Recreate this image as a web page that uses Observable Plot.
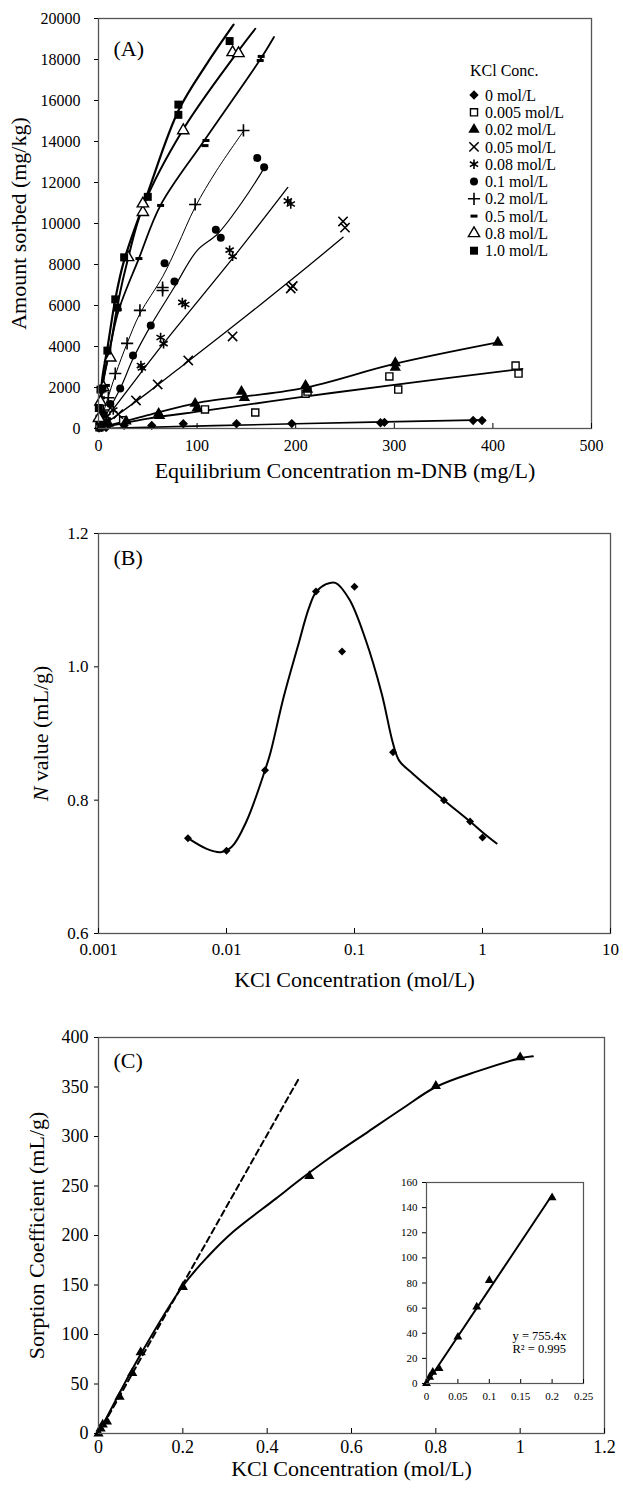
<!DOCTYPE html>
<html><head><meta charset="utf-8">
<script src="https://cdn.jsdelivr.net/npm/d3@7"></script>
<script src="https://cdn.jsdelivr.net/npm/@observablehq/plot@0.6"></script>
<style>
body{margin:0;background:#fff;}
#wrap{position:relative;width:623px;height:1490px;background:#fff;font-family:"Liberation Serif","Times New Roman",serif;}
#wrap > svg{display:block;}
.abs{position:absolute;}
</style></head><body><div id="wrap"></div>
<script>
// ---------------- Panel A data (Ce mg/L, q mg/kg) ----------------
const aSeries = ["0 mol/L","0.005 mol/L","0.02 mol/L","0.05 mol/L","0.08 mol/L","0.1 mol/L","0.2 mol/L","0.5 mol/L","0.8 mol/L","1.0 mol/L"];
const aXTicks = [0,100,200,300,400,500];
const aYTicks = [0,2000,4000,6000,8000,10000,12000,14000,16000,18000,20000];

const pts0   = [[0.5,20],[3,40],[8,60],[26,150],[54,150],[86,230],[140,230],[196,240],[286,280],[290,300],[380,390],[389,390]];
const pts005 = [[1,60],[5,150],[25,400],[108,930],[159,780],[210,1700],[212,1800],[295,2540],[304,1900],[423,3070],[426,2680]];
const pts02  = [[3,100],[10,250],[28,350],[61,730],[62,620],[98,1220],[100,1000],[145,1800],[148,1500],[210,2100],[212,1900],[301,3200],[301,2980],[405,4200]];
const pts05  = [[3,100],[8,300],[20,700],[38,1370],[60,2150],[91,3320],[136,4490],[195,6830],[197,6950],[248,10100],[250,9800]];
const pts08  = [[3,200],[8,600],[15,900],[43,3070],[44,2950],[63,4440],[66,4140],[85,6150],[88,6050],[133,8700],[136,8400],[192,11100],[195,10950]];
const pts1   = [[1,300],[5,700],[12,1200],[22,1950],[35,3560],[53,5020],[67,8060],[77,7170],[119,9700],[124,9300],[161,13200],[168,12750]];
const pts2   = [[1,400],[5,900],[10,1500],[17,2680],[29,4150],[42,5760],[65,6880],[65,6730],[98,10930],[147,14540]];
const pts5   = [[0.5,600],[3,1500],[8,2100],[20,5800],[41,8290],[63,10880],[108,13800],[109,14050],[164,17950],[165,18150]];
const pts8   = [[0.5,500],[2,1300],[5,2000],[12,3450],[30,8350],[45,10550],[45,10970],[86,14540],[136,18350],[142,18300]];
const pts10  = [[0.3,1000],[2,1900],[4,1950],[9,3800],[17,6300],[19,5900],[26,8350],[50,11300],[81,15300],[81,15800],[133,18900]];

// fitted curves
const fit0   = [[0,0],[200,230],[392,420]];
const fit005 = [[0,0],[50,480],[110,880],[205,1530],[300,2130],[430,2910]];
const fit02  = [[0,0],[50,650],[103,1280],[205,1940],[300,3150],[405,4200]];
const fit05  = [[0,0],[50,1750],[92,3320],[150,5500],[205,7620],[248,9330]];
const fit08  = [[0,0],[30,1900],[66,4150],[137,8360],[192,11760]];
const fit1   = [[0,0],[22,1950],[35,3400],[53,5020],[77,6900],[100,8680],[121,9500],[145,11000],[168,12700]];
const fit2   = [[0,0],[17,2600],[29,4150],[42,5600],[65,7400],[80,8900],[98,10800],[120,12600],[147,14500]];
const fit5   = [[0,0],[5,2300],[10,3500],[20,5700],[41,8300],[63,10900],[108,14100],[164,18000],[178,19100]];
const fit8   = [[0,0],[5,2400],[12,4000],[20,6200],[30,8300],[45,10800],[86,14600],[140,18300],[159,19500]];
const fit10  = [[0,0],[4,2500],[9,3900],[17,6300],[26,8200],[50,11500],[81,15500],[110,17800],[137,19700]];

// ---------------- Panel B data ----------------
const bXTicks = [0.001,0.01,0.1,1,10];
const bYTicks = [0.6,0.8,1.0,1.2];
const bKCl = [0.005,0.01,0.02,0.05,0.08,0.1,0.2,0.5,0.8,1.0];
const bN   = [0.743,0.724,0.845,1.113,1.023,1.120,0.872,0.800,0.768,0.744];
const bFitX = [0.005,0.007,0.009,0.011,0.0143,0.02,0.0221,0.028,0.036,0.044,0.05,0.06,0.071,0.0913,0.122,0.163,0.2,0.224,0.288,0.5,0.8,1.0,1.29];
const bFitY = [0.743,0.727,0.722,0.73,0.768,0.845,0.872,0.955,1.03,1.088,1.112,1.124,1.126,1.101,1.041,0.96,0.885,0.859,0.839,0.80,0.768,0.752,0.735];

// ---------------- Panel C data ----------------
const cXTicks = [0,0.2,0.4,0.6,0.8,1,1.2];
const cYTicks = [0,50,100,150,200,250,300,350,400];
const cKCl = [0,0.005,0.01,0.02,0.05,0.08,0.1,0.2,0.5,0.8,1.0];
const cKd  = [0,5,9,12,37,61,82,148,260,351,380];
const cFitX = [0,0.1,0.2,0.26,0.32,0.42,0.48,0.55,0.64,0.72,0.8,0.9,1.0,1.03];
const cFitY = [0,80,149,179,204,237,257,279,305,328,350,366,379,381];
const cLinX = [0,0.477];
const cLinY = [0,360];
const insetXTicks = [0,0.05,0.1,0.15,0.2,0.25];
const insetYTicks = [0,20,40,60,80,100,120,140,160];
const insetLinX = [0,0.2];
const insetLinY = [0,150];

// ---------------- rendering ----------------
const FONT = '"Liberation Serif","Times New Roman",serif';
const wrap = document.getElementById("wrap");
const P = d => d[0], Q = d => d[1];

const dashSym = {draw(ctx){ ctx.moveTo(-3.5,0); ctx.lineTo(3.5,0); }};
const styleA = [
  {sym:"diamond2", fill:"black", stroke:"none", r:4.2, sw:0,   lw:1.6},
  {sym:"square",   fill:"white", stroke:"black", r:4,  sw:1.4, lw:1.8},
  {sym:"triangle", fill:"black", stroke:"none", r:4.2, sw:0,   lw:1.8},
  {sym:"times",    fill:"none",  stroke:"black", r:4.3, sw:1.6, lw:1.3},
  {sym:"asterisk", fill:"none",  stroke:"black", r:4.5, sw:1.6, lw:1.3},
  {sym:"circle",   fill:"black", stroke:"none", r:4,   sw:0,   lw:1.2},
  {sym:"plus",     fill:"none",  stroke:"black", r:4,  sw:1.6, lw:1.0},
  {sym:dashSym,    fill:"none",  stroke:"black", r:4,  sw:3,   lw:1.8},
  {sym:"triangle", fill:"white", stroke:"black", r:4.2, sw:1.4, lw:2.0},
  {sym:"square",   fill:"black", stroke:"none", r:4.5, sw:0,   lw:2.2}
];
const ptsA = [pts0,pts005,pts02,pts05,pts08,pts1,pts2,pts5,pts8,pts10];
const fitA = [fit0,fit005,fit02,fit05,fit08,fit1,fit2,fit5,fit8,fit10];

const lineMarks = fitA.map((f,i) => Plot.line(f, {x:P, y:Q, curve:"catmull-rom", stroke:"black", strokeWidth:styleA[i].lw}));
const dotMarks = ptsA.map((p,i) => Plot.dot(p, {x:P, y:Q, symbol:styleA[i].sym, r:styleA[i].r, fill:styleA[i].fill, stroke:styleA[i].stroke, strokeWidth:styleA[i].sw}));

const plotA = Plot.plot({
  width:623, height:490, marginLeft:98, marginRight:32, marginTop:18, marginBottom:62,
  style:{fontFamily:FONT, fontSize:"16px", background:"white", color:"black"},
  x:{domain:[0,500]}, y:{domain:[0,20000]},
  marks:[
    ...lineMarks, ...dotMarks,
    Plot.frame({stroke:"#555", strokeWidth:1.3}),
    Plot.axisX({ticks:aXTicks, tickSize:0, tickPadding:11, tickFormat:d=>String(d), label:null}),
    Plot.axisX({ticks:aXTicks, tickSize:5, dy:-5, tickFormat:()=>"", label:null}),
    Plot.axisY({ticks:aYTicks, tickSize:4, tickPadding:14, tickFormat:d=>String(d), label:null}),
    Plot.text(["Equilibrium Concentration m-DNB (mg/L)"], {frameAnchor:"bottom", dy:42, fontSize:22, lineAnchor:"middle"}),
    Plot.text(["Amount sorbed (mg/kg)"], {frameAnchor:"left", dx:-80, rotate:-90, fontSize:22, textAnchor:"middle", lineAnchor:"middle"}),
    Plot.text(["(A)"], {frameAnchor:"top-left", dx:15, dy:30, fontSize:22, textAnchor:"start", lineAnchor:"middle"})
  ]
});
wrap.appendChild(plotA);

const bPts = bKCl.map((x,i)=>[x,bN[i]]);
const bFit = bFitX.map((x,i)=>[x,bFitY[i]]);
const plotB = Plot.plot({
  width:623, height:503, marginLeft:98, marginRight:13, marginTop:43, marginBottom:60,
  style:{fontFamily:FONT, fontSize:"17px", background:"white", color:"black"},
  x:{type:"log", domain:[0.001,10]}, y:{domain:[0.6,1.2]},
  marks:[
    Plot.line(bFit, {x:P, y:Q, curve:"catmull-rom", stroke:"black", strokeWidth:2}),
    Plot.dot(bPts, {x:P, y:Q, symbol:"diamond2", r:3.6, fill:"black"}),
    Plot.frame({stroke:"#555", strokeWidth:1.3}),
    Plot.axisX({ticks:bXTicks, tickSize:0, tickPadding:9, tickFormat:d=>String(d), label:null}),
    Plot.axisX({ticks:bXTicks, tickSize:5, dy:-5, tickFormat:()=>"", label:null}),
    Plot.axisY({ticks:bYTicks, tickSize:4, tickPadding:6, tickFormat:d3.format(".1f"), label:null}),
    Plot.text(["KCl Concentration (mol/L)"], {frameAnchor:"bottom", dy:46, fontSize:22, lineAnchor:"middle"}),
    Plot.text(["N value (mL/g)"], {frameAnchor:"left", dx:-58, rotate:-90, fontSize:22, textAnchor:"middle", lineAnchor:"middle"}),
    Plot.text(["(B)"], {frameAnchor:"top-left", dx:15, dy:24, fontSize:22, textAnchor:"start", lineAnchor:"middle"})
  ]
});
wrap.appendChild(plotB);
d3.select(plotB).selectAll("text").filter(function(){return this.textContent==="N value (mL/g)";})
  .each(function(){ const t=d3.select(this); t.text(""); t.append("tspan").attr("font-style","italic").text("N"); t.append("tspan").text(" value (mL/g)"); });

const cPts = cKCl.map((x,i)=>[x,cKd[i]]);
const cFit = cFitX.map((x,i)=>[x,cFitY[i]]);
const cLin = cLinX.map((x,i)=>[x,cLinY[i]]);
const plotC = Plot.plot({
  width:623, height:497, marginLeft:98, marginRight:19, marginTop:44, marginBottom:57,
  style:{fontFamily:FONT, fontSize:"18px", background:"white", color:"black"},
  x:{domain:[0,1.2]}, y:{domain:[0,400]},
  marks:[
    Plot.line(cLin, {x:P, y:Q, stroke:"black", strokeWidth:2, strokeDasharray:"6,4"}),
    Plot.line(cFit, {x:P, y:Q, curve:"catmull-rom", stroke:"black", strokeWidth:2}),
    Plot.dot(cPts, {x:P, y:Q, symbol:"triangle", r:3.8, fill:"black"}),
    Plot.frame({stroke:"#555", strokeWidth:1.3}),
    Plot.axisX({ticks:cXTicks, tickSize:0, tickPadding:7, tickFormat:d=>String(d), label:null}),
    Plot.axisX({ticks:cXTicks, tickSize:5, dy:-5, tickFormat:()=>"", label:null}),
    Plot.axisY({ticks:cYTicks, tickSize:4, tickPadding:6, tickFormat:d=>String(d), label:null}),
    Plot.text(["KCl Concentration (mol/L)"], {frameAnchor:"bottom", dy:35, fontSize:22, lineAnchor:"middle"}),
    Plot.text(["Sorption Coefficient (mL/g)"], {frameAnchor:"left", dx:-62, rotate:-90, fontSize:22, textAnchor:"middle", lineAnchor:"middle"}),
    Plot.text(["(C)"], {frameAnchor:"top-left", dx:15, dy:23, fontSize:22, textAnchor:"start", lineAnchor:"middle"})
  ]
});
wrap.appendChild(plotC);

// inset
const insPts = cPts.filter(d => d[0] <= 0.2);
const insLin = insetLinX.map((x,i)=>[x,insetLinY[i]]);
const plotI = Plot.plot({
  width:199, height:229, marginLeft:30, marginRight:12, marginTop:8, marginBottom:20,
  style:{fontFamily:FONT, fontSize:"11px", background:"white", color:"black"},
  x:{domain:[0,0.25]}, y:{domain:[0,160]},
  marks:[
    Plot.line(insLin, {x:P, y:Q, stroke:"black", strokeWidth:2}),
    Plot.dot(insPts, {x:P, y:Q, symbol:"triangle", r:3.3, fill:"black"}),
    Plot.frame({stroke:"#555", strokeWidth:1.2}),
    Plot.axisX({ticks:insetXTicks, tickSize:0, tickPadding:9, tickFormat:d=>String(d), label:null}),
    Plot.axisX({ticks:insetXTicks, tickSize:4, dy:-4, tickFormat:()=>"", label:null}),
    Plot.axisY({ticks:insetYTicks, tickSize:4, tickPadding:5, tickFormat:d=>String(d), label:null}),
    Plot.text(["y = 755.4x"], {frameAnchor:"top-left", dx:86, dy:153, fontSize:12.5, textAnchor:"start", lineAnchor:"middle"}),
    Plot.text(["R² = 0.995"], {frameAnchor:"top-left", dx:86, dy:166, fontSize:12.5, textAnchor:"start", lineAnchor:"middle"})
  ]
});
plotI.classList.add("abs");
plotI.style.left = "396px"; plotI.style.top = "1174px";
wrap.appendChild(plotI);

// legend for panel A
const leg = d3.select(wrap).append("svg").attr("class","abs")
  .attr("width",150).attr("height",210).style("left","460px").style("top","55px")
  .style("font-family",FONT);
leg.append("text").attr("x",10).attr("y",15).attr("dy","0.35em").attr("font-size",16).text("KCl Conc.");
const d3sym = {"diamond2":d3.symbolDiamond2,"square":d3.symbolSquare,"triangle":d3.symbolTriangle,"times":d3.symbolTimes,"asterisk":d3.symbolAsterisk,"circle":d3.symbolCircle,"plus":d3.symbolPlus};
aSeries.forEach((name,i) => {
  const s = styleA[i];
  const y = 40 + i*17.3;
  const type = typeof s.sym === "string" ? d3sym[s.sym] : s.sym;
  leg.append("path").attr("transform",`translate(14,${y})`)
    .attr("d", d3.symbol(type, Math.PI*s.r*s.r)())
    .attr("fill", s.fill).attr("stroke", s.stroke).attr("stroke-width", s.sw);
  leg.append("text").attr("x",25).attr("y",y).attr("dy","0.35em").attr("font-size",16).text(name);
});
</script></body></html>
